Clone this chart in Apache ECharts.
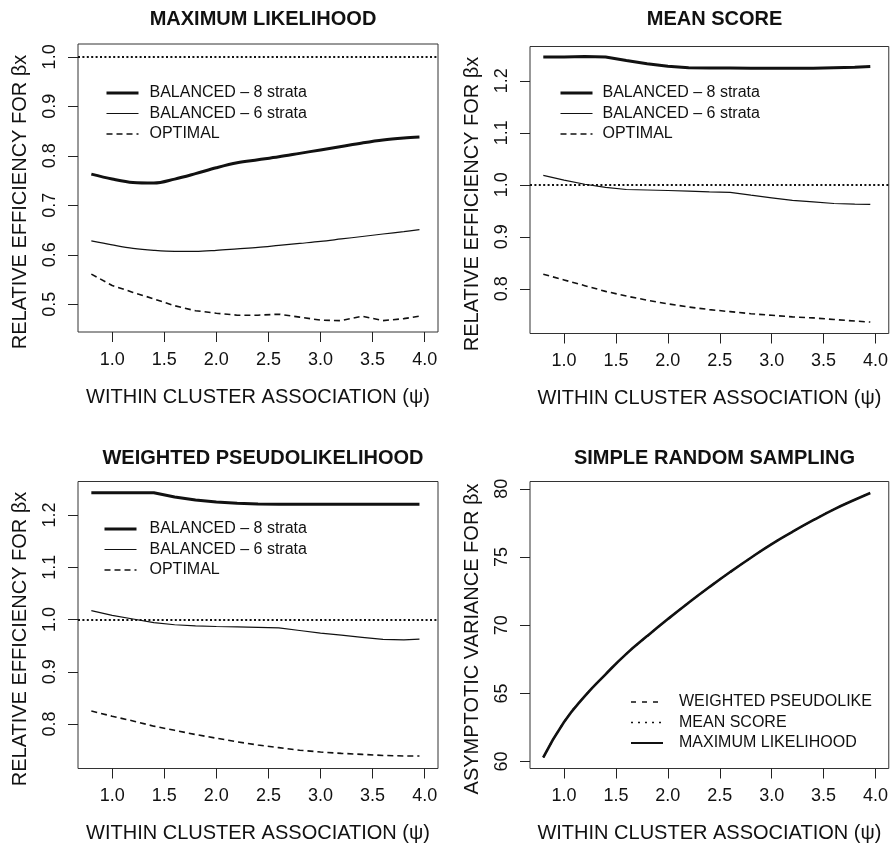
<!DOCTYPE html>
<html>
<head>
<meta charset="utf-8">
<script src="https://cdn.jsdelivr.net/npm/echarts@6/dist/echarts.min.js"></script>
<style>
  html, body { margin: 0; padding: 0; background: #fff; }
  #chart { width: 891px; height: 845px; }
</style>
</head>
<body>
<div id="chart"></div>
<script>
// Within-cluster association values at which each design was evaluated
const psi = [0.8, 1.0, 1.2, 1.4, 1.6, 1.8, 2.0, 2.2, 2.4, 2.6, 2.8, 3.0, 3.2, 3.4, 3.6, 3.8, 3.95];

// Maximum likelihood: relative efficiency
const mlBal8 = [0.763, 0.753, 0.746, 0.745, 0.753, 0.764, 0.776, 0.786, 0.792, 0.798, 0.805, 0.812, 0.819, 0.826, 0.832, 0.836, 0.838];
const mlBal6 = [0.628, 0.620, 0.613, 0.609, 0.607, 0.607, 0.609, 0.612, 0.615, 0.619, 0.623, 0.627, 0.632, 0.637, 0.642, 0.647, 0.651];
const mlOpt  = [0.561, 0.538, 0.524, 0.511, 0.497, 0.487, 0.482, 0.478, 0.478, 0.480, 0.474, 0.468, 0.467, 0.476, 0.467, 0.471, 0.476];

// Mean score: relative efficiency
const msBal8 = [1.246, 1.246, 1.247, 1.246, 1.239, 1.233, 1.228, 1.225, 1.2245, 1.2245, 1.224, 1.224, 1.224, 1.224, 1.225, 1.226, 1.2275];
const msBal6 = [1.018, 1.009, 1.001, 0.995, 0.991, 0.990, 0.989, 0.988, 0.9865, 0.9855, 0.980, 0.975, 0.970, 0.967, 0.964, 0.963, 0.9625];
const msOpt  = [0.828, 0.817, 0.806, 0.795, 0.786, 0.778, 0.771, 0.765, 0.760, 0.756, 0.752, 0.749, 0.746, 0.744, 0.741, 0.738, 0.736];

// Weighted pseudolikelihood: relative efficiency
const wpBal8 = [1.2426, 1.2426, 1.2426, 1.2426, 1.2345, 1.2285, 1.225, 1.2225, 1.221, 1.2205, 1.2203, 1.2203, 1.2203, 1.2205, 1.2205, 1.2207, 1.2207];
const wpBal6 = [1.017, 1.008, 1.001, 0.994, 0.990, 0.988, 0.9866, 0.9858, 0.985, 0.984, 0.979, 0.974, 0.970, 0.966, 0.962, 0.961, 0.9625];
const wpOpt  = [0.825, 0.815, 0.806, 0.796, 0.788, 0.780, 0.773, 0.766, 0.760, 0.755, 0.750, 0.7465, 0.744, 0.742, 0.740, 0.739, 0.739];

// Simple random sampling: asymptotic variance (identical for the three estimators)
const srsVar = [60.3, 62.9, 64.8, 66.4, 67.9, 69.2, 70.45, 71.65, 72.8, 73.9, 74.95, 75.95, 76.85, 77.7, 78.5, 79.2, 79.7];

// Reference line for equal efficiency
const equalEfficiency = 1.0;

// Tick positions
const xTicks = [1.0, 1.5, 2.0, 2.5, 3.0, 3.5, 4.0];
const yTicksML = [0.5, 0.6, 0.7, 0.8, 0.9, 1.0];
const yTicksRE = [0.8, 0.9, 1.0, 1.1, 1.2];
const yTicksVar = [60, 65, 70, 75, 80];

const panelTitles = ['MAXIMUM LIKELIHOOD', 'MEAN SCORE', 'WEIGHTED PSEUDOLIKELIHOOD', 'SIMPLE RANDOM SAMPLING'];
const xTitle = 'WITHIN CLUSTER ASSOCIATION (\u03C8)';
const yTitleRE = 'RELATIVE EFFICIENCY FOR \u03B2x';
const yTitleVar = 'ASYMPTOTIC VARIANCE FOR \u03B2x';

const namesRE = ['BALANCED \u2013 8 strata', 'BALANCED \u2013 6 strata', 'OPTIMAL'];
const namesSRS = ['WEIGHTED PSEUDOLIKE', 'MEAN SCORE', 'MAXIMUM LIKELIHOOD'];

const FONT = '"Liberation Sans", Arial, Helvetica, sans-serif';
const INK = '#111';

const grids = [
  { left: 78,  top: 44,    width: 360, height: 288 },
  { left: 530, top: 46.5,  width: 359, height: 287 },
  { left: 78,  top: 481.5, width: 360, height: 287 },
  { left: 530, top: 481.5, width: 359, height: 287 }
];
const yRanges = [[0.444, 1.026], [0.714, 1.266], [0.715, 1.264], [59.49, 80.54]];

const pair = ys => psi.map((x, i) => [x, ys[i]]);

function xAxis(i) {
  return {
    type: 'value', gridIndex: i, min: 0.672, max: 4.128,
    name: xTitle, nameLocation: 'middle', nameGap: 55,
    nameTextStyle: { fontFamily: FONT, fontSize: 20, color: INK },
    axisLine: { show: false },
    splitLine: { show: false },
    axisTick: { show: true, inside: false, length: 10, customValues: xTicks, lineStyle: { color: '#222', width: 1 } },
    axisLabel: { customValues: xTicks, margin: 19, fontFamily: FONT, fontSize: 18, color: INK,
                 formatter: v => v.toFixed(1) }
  };
}

function yAxis(i, ticks, title, digits) {
  return {
    type: 'value', gridIndex: i, min: yRanges[i][0], max: yRanges[i][1],
    name: title, nameLocation: 'middle', nameGap: 48, nameRotate: 90,
    nameTextStyle: { fontFamily: FONT, fontSize: 20, color: INK, padding: [0, 28, 0, 0] },
    axisLine: { show: false },
    splitLine: { show: false },
    axisTick: { show: true, inside: false, length: 10, customValues: ticks, lineStyle: { color: '#222', width: 1 } },
    axisLabel: { customValues: ticks, rotate: 90, margin: 19, fontFamily: FONT, fontSize: 18, color: INK,
                 formatter: v => v.toFixed(digits) }
  };
}

const thick = { color: '#111', width: 3, type: 'solid' };
const thin = { color: '#111', width: 1.2, type: 'solid' };
const dashed = { color: '#111', width: 1.6, type: [6, 4] };
const srsDashed = { color: '#111', width: 1.5, type: [5, 6] };
const srsDotted = { color: '#111', width: 1.7, type: [2, 5] };
const srsSolid = { color: '#111', width: 2.6, type: 'solid' };

function line(name, i, ys, style, extra) {
  return Object.assign({
    name: name, type: 'line', xAxisIndex: i, yAxisIndex: i,
    data: pair(ys), symbol: 'none', smooth: false,
    lineStyle: style, itemStyle: { color: '#111' }
  }, extra || {});
}

const refLine = {
  silent: true, symbol: ['none', 'none'], label: { show: false },
  lineStyle: { color: '#111', width: 1.8, type: [2, 2.4] },
  data: [{ yAxis: equalEfficiency }]
};

const series = [];
[[mlBal8, mlBal6, mlOpt], [msBal8, msBal6, msOpt], [wpBal8, wpBal6, wpOpt]].forEach((set, i) => {
  const soft = i === 0 ? { smooth: 0.35 } : {};
  series.push(line(namesRE[0], i, set[0], thick, soft));
  series.push(line(namesRE[1], i, set[1], thin, Object.assign({ markLine: refLine }, soft)));
  series.push(line(namesRE[2], i, set[2], dashed));
});
const srsSmooth = { smooth: 0.5 };
series.push(line(namesSRS[0], 3, srsVar, srsDashed, srsSmooth));
series.push(line(namesSRS[1], 3, srsVar, srsDotted, srsSmooth));
series.push(line(namesSRS[2], 3, srsVar, srsSolid, srsSmooth));

function legend(names, styles, left, top, textPad) {
  return {
    data: names.map((n, k) => ({ name: n, lineStyle: styles[k] })),
    orient: 'vertical', left: left, top: top,
    itemWidth: 32, itemHeight: 16, itemGap: 4.5,
    selectedMode: false,
    itemStyle: { opacity: 0 },
    textStyle: { fontFamily: FONT, fontSize: 16, color: INK, padding: [0, 0, 0, textPad] }
  };
}

const titles = panelTitles.map((t, i) => ({
  text: t, left: grids[i].left + grids[i].width / 2, textAlign: 'center',
  top: i < 2 ? 4 : 443,
  textStyle: { fontFamily: FONT, fontSize: 20, fontWeight: 'bold', color: INK }
}));

const reStyles = [thick, thin, dashed];
const srsStyles = [srsDashed, srsDotted, { color: '#111', width: 2, type: 'solid' }];

const option = {
  animation: false,
  backgroundColor: '#fff',
  title: titles,
  grid: grids.map(g => Object.assign({ show: true, borderColor: '#333', borderWidth: 1, backgroundColor: 'transparent' }, g)),
  xAxis: [0, 1, 2, 3].map(xAxis),
  yAxis: [
    yAxis(0, yTicksML, yTitleRE, 1),
    yAxis(1, yTicksRE, yTitleRE, 1),
    yAxis(2, yTicksRE, yTitleRE, 1),
    yAxis(3, yTicksVar, yTitleVar, 0)
  ],
  legend: [
    legend(namesRE, reStyles, 100, 80, 6),
    legend(namesRE, reStyles, 554, 80, 5),
    legend(namesRE, reStyles, 98, 516, 8),
    legend(namesSRS, srsStyles, 625, 689, 11)
  ],
  series: series
};

const chart = echarts.init(document.getElementById('chart'), null, { renderer: 'canvas' });
chart.setOption(option);
</script>
</body>
</html>
